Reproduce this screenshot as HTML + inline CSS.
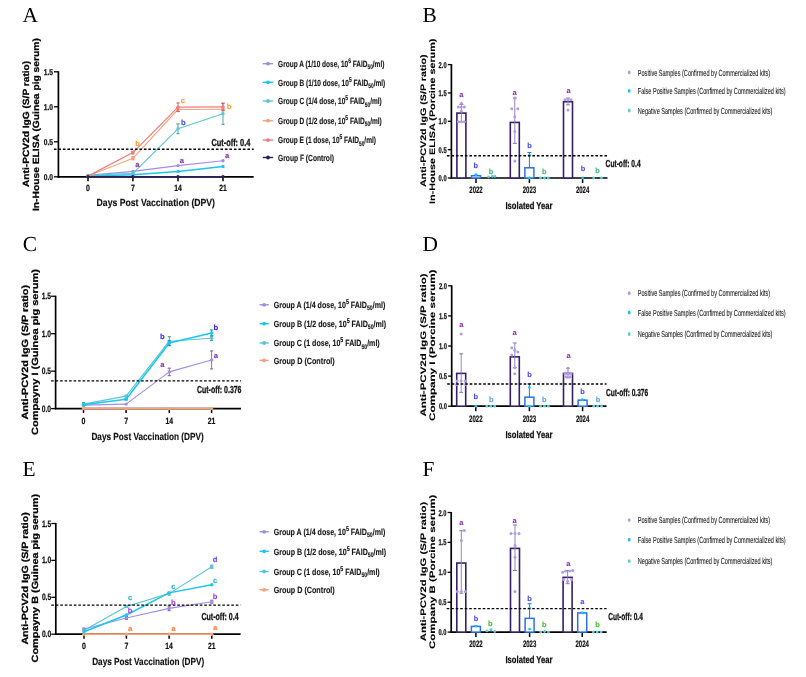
<!DOCTYPE html>
<html><head><meta charset="utf-8"><style>
html,body{margin:0;padding:0;background:#fff;width:806px;height:677px;overflow:hidden}
svg{display:block;will-change:transform;text-rendering:geometricPrecision}
</style></head><body>
<svg width="806" height="677" viewBox="0 0 806 677">
<rect width="806" height="677" fill="#fff"/>
<text x="22.5" y="22" font-family="'Liberation Serif', serif" font-size="21.4" font-weight="normal" fill="#000" text-anchor="start">A</text>
<text transform="translate(28.68,123.9) rotate(-90)" x="0" y="0" font-family="'Liberation Sans', sans-serif" font-size="9" font-weight="bold" fill="#000" text-anchor="middle" stroke="#000" stroke-width="0.25" textLength="126.2" lengthAdjust="spacingAndGlyphs">Anti-PCV2d IgG (S/P ratio)</text>
<text transform="translate(39.28,124.6) rotate(-90)" x="0" y="0" font-family="'Liberation Sans', sans-serif" font-size="9" font-weight="bold" fill="#000" text-anchor="middle" stroke="#000" stroke-width="0.25" textLength="172.8" lengthAdjust="spacingAndGlyphs">In-House ELISA (Guinea pig serum)</text>
<line x1="58.4" y1="71.3" x2="58.4" y2="177.55" stroke="#000" stroke-width="1.7" />
<line x1="53.9" y1="176.8" x2="58.4" y2="176.8" stroke="#000" stroke-width="1.3" />
<text x="53.1" y="179.8" font-family="'Liberation Sans', sans-serif" font-size="8.4" font-weight="bold" fill="#111" text-anchor="end" stroke="#111" stroke-width="0.25" textLength="9.3" lengthAdjust="spacingAndGlyphs">0.0</text>
<line x1="53.9" y1="141.8" x2="58.4" y2="141.8" stroke="#000" stroke-width="1.3" />
<text x="53.1" y="144.8" font-family="'Liberation Sans', sans-serif" font-size="8.4" font-weight="bold" fill="#111" text-anchor="end" stroke="#111" stroke-width="0.25" textLength="9.3" lengthAdjust="spacingAndGlyphs">0.5</text>
<line x1="53.9" y1="106.8" x2="58.4" y2="106.8" stroke="#000" stroke-width="1.3" />
<text x="53.1" y="109.8" font-family="'Liberation Sans', sans-serif" font-size="8.4" font-weight="bold" fill="#111" text-anchor="end" stroke="#111" stroke-width="0.25" textLength="9.3" lengthAdjust="spacingAndGlyphs">1.0</text>
<line x1="53.9" y1="71.8" x2="58.4" y2="71.8" stroke="#000" stroke-width="1.3" />
<text x="53.1" y="74.8" font-family="'Liberation Sans', sans-serif" font-size="8.4" font-weight="bold" fill="#111" text-anchor="end" stroke="#111" stroke-width="0.25" textLength="9.3" lengthAdjust="spacingAndGlyphs">1.5</text>
<line x1="57.65" y1="176.8" x2="253.7" y2="176.8" stroke="#000" stroke-width="1.7" />
<line x1="88" y1="176.8" x2="88" y2="181.3" stroke="#000" stroke-width="1.5" />
<text x="88" y="190.9" font-family="'Liberation Sans', sans-serif" font-size="9" font-weight="bold" fill="#111" text-anchor="middle" stroke="#111" stroke-width="0.2" textLength="3.9" lengthAdjust="spacingAndGlyphs">0</text>
<line x1="132.9" y1="176.8" x2="132.9" y2="181.3" stroke="#000" stroke-width="1.5" />
<text x="132.9" y="190.9" font-family="'Liberation Sans', sans-serif" font-size="9" font-weight="bold" fill="#111" text-anchor="middle" stroke="#111" stroke-width="0.2" textLength="3.9" lengthAdjust="spacingAndGlyphs">7</text>
<line x1="178" y1="176.8" x2="178" y2="181.3" stroke="#000" stroke-width="1.5" />
<text x="178" y="190.9" font-family="'Liberation Sans', sans-serif" font-size="9" font-weight="bold" fill="#111" text-anchor="middle" stroke="#111" stroke-width="0.2" textLength="7.6" lengthAdjust="spacingAndGlyphs">14</text>
<line x1="223" y1="176.8" x2="223" y2="181.3" stroke="#000" stroke-width="1.5" />
<text x="223" y="190.9" font-family="'Liberation Sans', sans-serif" font-size="9" font-weight="bold" fill="#111" text-anchor="middle" stroke="#111" stroke-width="0.2" textLength="7.6" lengthAdjust="spacingAndGlyphs">21</text>
<polyline points="88,175.4 132.9,171.41 178,165.6 223,160.7" fill="none" stroke="#a48ce4" stroke-width="1.1" stroke-linejoin="round"/>
<circle cx="88" cy="175.4" r="1.7" fill="#a48ce4" stroke="none" stroke-width="0"/>
<circle cx="132.9" cy="171.41" r="1.7" fill="#a48ce4" stroke="none" stroke-width="0"/>
<circle cx="178" cy="165.6" r="1.7" fill="#a48ce4" stroke="none" stroke-width="0"/>
<circle cx="223" cy="160.7" r="1.7" fill="#a48ce4" stroke="none" stroke-width="0"/>
<polyline points="88,176.1 132.9,174.7 178,171.41 223,166.51" fill="none" stroke="#19c6f2" stroke-width="1.5" stroke-linejoin="round"/>
<circle cx="88" cy="176.1" r="1.7" fill="#19c6f2" stroke="none" stroke-width="0"/>
<circle cx="132.9" cy="174.7" r="1.7" fill="#19c6f2" stroke="none" stroke-width="0"/>
<circle cx="178" cy="171.41" r="1.7" fill="#19c6f2" stroke="none" stroke-width="0"/>
<circle cx="223" cy="166.51" r="1.7" fill="#19c6f2" stroke="none" stroke-width="0"/>
<polyline points="88,175.4 132.9,173.3 178,128.78 223,113.8" fill="none" stroke="#5cc4d2" stroke-width="1.1" stroke-linejoin="round"/>
<circle cx="88" cy="175.4" r="1.7" fill="#5cc4d2" stroke="none" stroke-width="0"/>
<circle cx="132.9" cy="173.3" r="1.7" fill="#5cc4d2" stroke="none" stroke-width="0"/>
<line x1="178" y1="123.88" x2="178" y2="133.68" stroke="#4a9aa6" stroke-width="0.9" />
<line x1="176.4" y1="123.88" x2="179.6" y2="123.88" stroke="#4a9aa6" stroke-width="1.1" />
<line x1="176.4" y1="133.68" x2="179.6" y2="133.68" stroke="#4a9aa6" stroke-width="1.1" />
<circle cx="178" cy="128.78" r="1.7" fill="#5cc4d2" stroke="none" stroke-width="0"/>
<line x1="223" y1="103.3" x2="223" y2="124.3" stroke="#4a9aa6" stroke-width="0.9" />
<line x1="221.4" y1="103.3" x2="224.6" y2="103.3" stroke="#4a9aa6" stroke-width="1.1" />
<line x1="221.4" y1="124.3" x2="224.6" y2="124.3" stroke="#4a9aa6" stroke-width="1.1" />
<circle cx="223" cy="113.8" r="1.7" fill="#5cc4d2" stroke="none" stroke-width="0"/>
<polyline points="88,176.1 132.9,158.32 178,109.46 223,109.25" fill="none" stroke="#f6a27a" stroke-width="1.1" stroke-linejoin="round"/>
<circle cx="88" cy="176.1" r="1.7" fill="#f6a27a" stroke="none" stroke-width="0"/>
<line x1="132.9" y1="156.92" x2="132.9" y2="159.72" stroke="#d88060" stroke-width="0.9" />
<line x1="131.3" y1="156.92" x2="134.5" y2="156.92" stroke="#d88060" stroke-width="1.1" />
<line x1="131.3" y1="159.72" x2="134.5" y2="159.72" stroke="#d88060" stroke-width="1.1" />
<circle cx="132.9" cy="158.32" r="1.7" fill="#f6a27a" stroke="none" stroke-width="0"/>
<line x1="178" y1="107.36" x2="178" y2="111.56" stroke="#d88060" stroke-width="0.9" />
<line x1="176.4" y1="107.36" x2="179.6" y2="107.36" stroke="#d88060" stroke-width="1.1" />
<line x1="176.4" y1="111.56" x2="179.6" y2="111.56" stroke="#d88060" stroke-width="1.1" />
<circle cx="178" cy="109.46" r="1.7" fill="#f6a27a" stroke="none" stroke-width="0"/>
<line x1="223" y1="107.85" x2="223" y2="110.65" stroke="#d88060" stroke-width="0.9" />
<line x1="221.4" y1="107.85" x2="224.6" y2="107.85" stroke="#d88060" stroke-width="1.1" />
<line x1="221.4" y1="110.65" x2="224.6" y2="110.65" stroke="#d88060" stroke-width="1.1" />
<circle cx="223" cy="109.25" r="1.7" fill="#f6a27a" stroke="none" stroke-width="0"/>
<polyline points="88,176.1 132.9,152.58 178,107.15 223,106.8" fill="none" stroke="#f27c7c" stroke-width="1.2" stroke-linejoin="round"/>
<circle cx="88" cy="176.1" r="1.7" fill="#f27c7c" stroke="none" stroke-width="0"/>
<line x1="132.9" y1="151.18" x2="132.9" y2="153.98" stroke="#d86060" stroke-width="0.9" />
<line x1="131.3" y1="151.18" x2="134.5" y2="151.18" stroke="#d86060" stroke-width="1.1" />
<line x1="131.3" y1="153.98" x2="134.5" y2="153.98" stroke="#d86060" stroke-width="1.1" />
<circle cx="132.9" cy="152.58" r="1.7" fill="#f27c7c" stroke="none" stroke-width="0"/>
<line x1="178" y1="102.95" x2="178" y2="111.35" stroke="#d86060" stroke-width="0.9" />
<line x1="176.4" y1="102.95" x2="179.6" y2="102.95" stroke="#d86060" stroke-width="1.1" />
<line x1="176.4" y1="111.35" x2="179.6" y2="111.35" stroke="#d86060" stroke-width="1.1" />
<circle cx="178" cy="107.15" r="1.7" fill="#f27c7c" stroke="none" stroke-width="0"/>
<line x1="223" y1="103.3" x2="223" y2="110.3" stroke="#d86060" stroke-width="0.9" />
<line x1="221.4" y1="103.3" x2="224.6" y2="103.3" stroke="#d86060" stroke-width="1.1" />
<line x1="221.4" y1="110.3" x2="224.6" y2="110.3" stroke="#d86060" stroke-width="1.1" />
<circle cx="223" cy="106.8" r="1.7" fill="#f27c7c" stroke="none" stroke-width="0"/>
<polyline points="88,176.8 132.9,176.8 178,176.8 223,176.8" fill="none" stroke="#2c1d5c" stroke-width="1.6" stroke-linejoin="round"/>
<circle cx="88" cy="176.8" r="1.7" fill="#2c1d5c" stroke="none" stroke-width="0"/>
<circle cx="132.9" cy="176.8" r="1.7" fill="#2c1d5c" stroke="none" stroke-width="0"/>
<circle cx="178" cy="176.8" r="1.7" fill="#2c1d5c" stroke="none" stroke-width="0"/>
<circle cx="223" cy="176.8" r="1.7" fill="#2c1d5c" stroke="none" stroke-width="0"/>
<line x1="53.9" y1="149.2" x2="253.7" y2="149.2" stroke="#000" stroke-width="1.35" stroke-dasharray="2.6,1.9"/>
<text x="211.4" y="145.6" font-family="'Liberation Sans', sans-serif" font-size="10.2" font-weight="bold" fill="#111" text-anchor="start" stroke="#111" stroke-width="0.3" textLength="39" lengthAdjust="spacingAndGlyphs">Cut-off: 0.4</text>
<text x="137.6" y="145.5" font-family="'Liberation Sans', sans-serif" font-size="7.6" font-weight="bold" fill="#f5a030" text-anchor="middle" stroke="#f5a030" stroke-width="0.12">b</text>
<text x="182.8" y="103.3" font-family="'Liberation Sans', sans-serif" font-size="7.6" font-weight="bold" fill="#f5a030" text-anchor="middle" stroke="#f5a030" stroke-width="0.12">c</text>
<text x="229" y="109.4" font-family="'Liberation Sans', sans-serif" font-size="7.6" font-weight="bold" fill="#f5a030" text-anchor="middle" stroke="#f5a030" stroke-width="0.12">b</text>
<text x="183.3" y="124.6" font-family="'Liberation Sans', sans-serif" font-size="7.6" font-weight="bold" fill="#4a4cf0" text-anchor="middle" stroke="#4a4cf0" stroke-width="0.12">b</text>
<text x="137.4" y="167" font-family="'Liberation Sans', sans-serif" font-size="7.6" font-weight="bold" fill="#8e2fb0" text-anchor="middle" stroke="#8e2fb0" stroke-width="0.12">a</text>
<text x="181.8" y="163.3" font-family="'Liberation Sans', sans-serif" font-size="7.6" font-weight="bold" fill="#8e2fb0" text-anchor="middle" stroke="#8e2fb0" stroke-width="0.12">a</text>
<text x="227.2" y="158.1" font-family="'Liberation Sans', sans-serif" font-size="7.6" font-weight="bold" fill="#8e2fb0" text-anchor="middle" stroke="#8e2fb0" stroke-width="0.12">a</text>
<text x="155.8" y="206.2" font-family="'Liberation Sans', sans-serif" font-size="10.3" font-weight="bold" fill="#111" text-anchor="middle" stroke="#111" stroke-width="0.15" textLength="118.4" lengthAdjust="spacingAndGlyphs">Days Post Vaccination (DPV)</text>
<line x1="262.8" y1="63.7" x2="273.2" y2="63.7" stroke="#a48ce4" stroke-width="1.4" />
<circle cx="268" cy="63.7" r="1.9" fill="#a48ce4" stroke="none" stroke-width="0"/>
<text x="278.1" y="66.9" font-family="'Liberation Sans', sans-serif" font-size="9" font-weight="bold" fill="#1a1a1a" text-anchor="start" stroke="#1a1a1a" stroke-width="0.15" textLength="106.3" lengthAdjust="spacingAndGlyphs">Group A (1/10 dose, 10<tspan dy="-3.9" font-size="6.8">6</tspan><tspan dy="3.9"> FAID</tspan><tspan dy="2.3" font-size="6.6">50</tspan><tspan dy="-2.3">/ml)</tspan></text>
<line x1="262.8" y1="82.3" x2="273.2" y2="82.3" stroke="#19c6f2" stroke-width="1.4" />
<circle cx="268" cy="82.3" r="1.9" fill="#19c6f2" stroke="none" stroke-width="0"/>
<text x="278.1" y="85.5" font-family="'Liberation Sans', sans-serif" font-size="9" font-weight="bold" fill="#1a1a1a" text-anchor="start" stroke="#1a1a1a" stroke-width="0.15" textLength="107.2" lengthAdjust="spacingAndGlyphs">Group B (1/10 dose, 10<tspan dy="-3.9" font-size="6.8">5</tspan><tspan dy="3.9"> FAID</tspan><tspan dy="2.3" font-size="6.6">50</tspan><tspan dy="-2.3">/ml)</tspan></text>
<line x1="262.8" y1="101" x2="273.2" y2="101" stroke="#5cc4d2" stroke-width="1.4" />
<circle cx="268" cy="101" r="1.9" fill="#5cc4d2" stroke="none" stroke-width="0"/>
<text x="278.1" y="104.2" font-family="'Liberation Sans', sans-serif" font-size="9" font-weight="bold" fill="#1a1a1a" text-anchor="start" stroke="#1a1a1a" stroke-width="0.15" textLength="103.7" lengthAdjust="spacingAndGlyphs">Group C (1/4 dose, 10<tspan dy="-3.9" font-size="6.8">5</tspan><tspan dy="3.9"> FAID</tspan><tspan dy="2.3" font-size="6.6">50</tspan><tspan dy="-2.3">/ml)</tspan></text>
<line x1="262.8" y1="120.7" x2="273.2" y2="120.7" stroke="#f6a27a" stroke-width="1.4" />
<circle cx="268" cy="120.7" r="1.9" fill="#f6a27a" stroke="none" stroke-width="0"/>
<text x="278.1" y="123.9" font-family="'Liberation Sans', sans-serif" font-size="9" font-weight="bold" fill="#1a1a1a" text-anchor="start" stroke="#1a1a1a" stroke-width="0.15" textLength="103.7" lengthAdjust="spacingAndGlyphs">Group D (1/2 dose, 10<tspan dy="-3.9" font-size="6.8">5</tspan><tspan dy="3.9"> FAID</tspan><tspan dy="2.3" font-size="6.6">50</tspan><tspan dy="-2.3">/ml)</tspan></text>
<line x1="262.8" y1="140.1" x2="273.2" y2="140.1" stroke="#f27c7c" stroke-width="1.4" />
<circle cx="268" cy="140.1" r="1.9" fill="#f27c7c" stroke="none" stroke-width="0"/>
<text x="278.1" y="143.3" font-family="'Liberation Sans', sans-serif" font-size="9" font-weight="bold" fill="#1a1a1a" text-anchor="start" stroke="#1a1a1a" stroke-width="0.15" textLength="97.9" lengthAdjust="spacingAndGlyphs">Group E (1 dose, 10<tspan dy="-3.9" font-size="6.8">5</tspan><tspan dy="3.9"> FAID</tspan><tspan dy="2.3" font-size="6.6">50</tspan><tspan dy="-2.3">/ml)</tspan></text>
<line x1="262.8" y1="157.5" x2="273.2" y2="157.5" stroke="#2c1d5c" stroke-width="1.4" />
<circle cx="268" cy="157.5" r="1.9" fill="#2c1d5c" stroke="none" stroke-width="0"/>
<text x="278.1" y="160.7" font-family="'Liberation Sans', sans-serif" font-size="9" font-weight="bold" fill="#1a1a1a" text-anchor="start" stroke="#1a1a1a" stroke-width="0.15" textLength="55.9" lengthAdjust="spacingAndGlyphs">Group F (Control)</text>
<text x="22.8" y="251.1" font-family="'Liberation Serif', serif" font-size="21.4" font-weight="normal" fill="#000" text-anchor="start">C</text>
<text transform="translate(28.18,352.3) rotate(-90)" x="0" y="0" font-family="'Liberation Sans', sans-serif" font-size="9" font-weight="bold" fill="#000" text-anchor="middle" stroke="#000" stroke-width="0.25" textLength="134.6" lengthAdjust="spacingAndGlyphs">Anti-PCV2d IgG (S/P ratio)</text>
<text transform="translate(37.88,352) rotate(-90)" x="0" y="0" font-family="'Liberation Sans', sans-serif" font-size="9" font-weight="bold" fill="#000" text-anchor="middle" stroke="#000" stroke-width="0.25" textLength="165.9" lengthAdjust="spacingAndGlyphs">Compayny I (Guinea pig serum)</text>
<line x1="55.6" y1="295.75" x2="55.6" y2="409.35" stroke="#000" stroke-width="1.7" />
<line x1="51.1" y1="408.6" x2="55.6" y2="408.6" stroke="#000" stroke-width="1.3" />
<text x="51" y="411.6" font-family="'Liberation Sans', sans-serif" font-size="9.2" font-weight="bold" fill="#111" text-anchor="end" stroke="#111" stroke-width="0.25" textLength="9.3" lengthAdjust="spacingAndGlyphs">0.0</text>
<line x1="51.1" y1="371.15" x2="55.6" y2="371.15" stroke="#000" stroke-width="1.3" />
<text x="51" y="374.15" font-family="'Liberation Sans', sans-serif" font-size="9.2" font-weight="bold" fill="#111" text-anchor="end" stroke="#111" stroke-width="0.25" textLength="9.3" lengthAdjust="spacingAndGlyphs">0.5</text>
<line x1="51.1" y1="333.7" x2="55.6" y2="333.7" stroke="#000" stroke-width="1.3" />
<text x="51" y="336.7" font-family="'Liberation Sans', sans-serif" font-size="9.2" font-weight="bold" fill="#111" text-anchor="end" stroke="#111" stroke-width="0.25" textLength="9.3" lengthAdjust="spacingAndGlyphs">1.0</text>
<line x1="51.1" y1="296.25" x2="55.6" y2="296.25" stroke="#000" stroke-width="1.3" />
<text x="51" y="299.25" font-family="'Liberation Sans', sans-serif" font-size="9.2" font-weight="bold" fill="#111" text-anchor="end" stroke="#111" stroke-width="0.25" textLength="9.3" lengthAdjust="spacingAndGlyphs">1.5</text>
<line x1="54.85" y1="408.6" x2="241" y2="408.6" stroke="#000" stroke-width="1.7" />
<line x1="83.5" y1="408.6" x2="83.5" y2="413.1" stroke="#000" stroke-width="1.5" />
<text x="83.5" y="423.5" font-family="'Liberation Sans', sans-serif" font-size="9" font-weight="bold" fill="#111" text-anchor="middle" stroke="#111" stroke-width="0.2" textLength="3.9" lengthAdjust="spacingAndGlyphs">0</text>
<line x1="126.1" y1="408.6" x2="126.1" y2="413.1" stroke="#000" stroke-width="1.5" />
<text x="126.1" y="423.5" font-family="'Liberation Sans', sans-serif" font-size="9" font-weight="bold" fill="#111" text-anchor="middle" stroke="#111" stroke-width="0.2" textLength="3.9" lengthAdjust="spacingAndGlyphs">7</text>
<line x1="169.3" y1="408.6" x2="169.3" y2="413.1" stroke="#000" stroke-width="1.5" />
<text x="169.3" y="423.5" font-family="'Liberation Sans', sans-serif" font-size="9" font-weight="bold" fill="#111" text-anchor="middle" stroke="#111" stroke-width="0.2" textLength="7.6" lengthAdjust="spacingAndGlyphs">14</text>
<line x1="211.6" y1="408.6" x2="211.6" y2="413.1" stroke="#000" stroke-width="1.5" />
<text x="211.6" y="423.5" font-family="'Liberation Sans', sans-serif" font-size="9" font-weight="bold" fill="#111" text-anchor="middle" stroke="#111" stroke-width="0.2" textLength="7.6" lengthAdjust="spacingAndGlyphs">21</text>
<polyline points="83.5,408.6 126.1,408.6 169.3,408.6 211.6,408.6" fill="none" stroke="#f6a27a" stroke-width="1.8" stroke-linejoin="round"/>
<circle cx="83.5" cy="408.6" r="1.7" fill="#f6a27a" stroke="none" stroke-width="0"/>
<circle cx="126.1" cy="408.6" r="1.7" fill="#f6a27a" stroke="none" stroke-width="0"/>
<circle cx="169.3" cy="408.6" r="1.7" fill="#f6a27a" stroke="none" stroke-width="0"/>
<circle cx="211.6" cy="408.6" r="1.7" fill="#f6a27a" stroke="none" stroke-width="0"/>
<polyline points="83.5,405.08 126.1,404.11 169.3,371.9 211.6,359.92" fill="none" stroke="#a48ce4" stroke-width="1.1" stroke-linejoin="round"/>
<line x1="83.5" y1="404.33" x2="83.5" y2="405.83" stroke="#7a68a8" stroke-width="0.9" />
<line x1="81.9" y1="404.33" x2="85.1" y2="404.33" stroke="#7a68a8" stroke-width="1.1" />
<line x1="81.9" y1="405.83" x2="85.1" y2="405.83" stroke="#7a68a8" stroke-width="1.1" />
<circle cx="83.5" cy="405.08" r="1.7" fill="#a48ce4" stroke="none" stroke-width="0"/>
<circle cx="126.1" cy="404.11" r="1.7" fill="#a48ce4" stroke="none" stroke-width="0"/>
<line x1="169.3" y1="368.15" x2="169.3" y2="375.64" stroke="#7a68a8" stroke-width="0.9" />
<line x1="167.7" y1="368.15" x2="170.9" y2="368.15" stroke="#7a68a8" stroke-width="1.1" />
<line x1="167.7" y1="375.64" x2="170.9" y2="375.64" stroke="#7a68a8" stroke-width="1.1" />
<circle cx="169.3" cy="371.9" r="1.7" fill="#a48ce4" stroke="none" stroke-width="0"/>
<line x1="211.6" y1="350.93" x2="211.6" y2="368.9" stroke="#7a68a8" stroke-width="0.9" />
<line x1="210" y1="350.93" x2="213.2" y2="350.93" stroke="#7a68a8" stroke-width="1.1" />
<line x1="210" y1="368.9" x2="213.2" y2="368.9" stroke="#7a68a8" stroke-width="1.1" />
<circle cx="211.6" cy="359.92" r="1.7" fill="#a48ce4" stroke="none" stroke-width="0"/>
<polyline points="83.5,404.11 126.1,396.09 169.3,341.19 211.6,338.19" fill="none" stroke="#5cc4d2" stroke-width="1.1" stroke-linejoin="round"/>
<line x1="83.5" y1="402.61" x2="83.5" y2="405.6" stroke="#4a9aa6" stroke-width="0.9" />
<line x1="81.9" y1="402.61" x2="85.1" y2="402.61" stroke="#4a9aa6" stroke-width="1.1" />
<line x1="81.9" y1="405.6" x2="85.1" y2="405.6" stroke="#4a9aa6" stroke-width="1.1" />
<circle cx="83.5" cy="404.11" r="1.7" fill="#5cc4d2" stroke="none" stroke-width="0"/>
<line x1="126.1" y1="395.34" x2="126.1" y2="396.84" stroke="#4a9aa6" stroke-width="0.9" />
<line x1="124.5" y1="395.34" x2="127.7" y2="395.34" stroke="#4a9aa6" stroke-width="1.1" />
<line x1="124.5" y1="396.84" x2="127.7" y2="396.84" stroke="#4a9aa6" stroke-width="1.1" />
<circle cx="126.1" cy="396.09" r="1.7" fill="#5cc4d2" stroke="none" stroke-width="0"/>
<line x1="169.3" y1="336.7" x2="169.3" y2="345.68" stroke="#4a9aa6" stroke-width="0.9" />
<line x1="167.7" y1="336.7" x2="170.9" y2="336.7" stroke="#4a9aa6" stroke-width="1.1" />
<line x1="167.7" y1="345.68" x2="170.9" y2="345.68" stroke="#4a9aa6" stroke-width="1.1" />
<circle cx="169.3" cy="341.19" r="1.7" fill="#5cc4d2" stroke="none" stroke-width="0"/>
<line x1="211.6" y1="335.95" x2="211.6" y2="340.44" stroke="#4a9aa6" stroke-width="0.9" />
<line x1="210" y1="335.95" x2="213.2" y2="335.95" stroke="#4a9aa6" stroke-width="1.1" />
<line x1="210" y1="340.44" x2="213.2" y2="340.44" stroke="#4a9aa6" stroke-width="1.1" />
<circle cx="211.6" cy="338.19" r="1.7" fill="#5cc4d2" stroke="none" stroke-width="0"/>
<polyline points="83.5,404.86 126.1,399.31 169.3,343.06 211.6,332.95" fill="none" stroke="#19c6f2" stroke-width="1.5" stroke-linejoin="round"/>
<circle cx="83.5" cy="404.86" r="1.7" fill="#19c6f2" stroke="none" stroke-width="0"/>
<line x1="126.1" y1="398.56" x2="126.1" y2="400.06" stroke="#2090c0" stroke-width="0.9" />
<line x1="124.5" y1="398.56" x2="127.7" y2="398.56" stroke="#2090c0" stroke-width="1.1" />
<line x1="124.5" y1="400.06" x2="127.7" y2="400.06" stroke="#2090c0" stroke-width="1.1" />
<circle cx="126.1" cy="399.31" r="1.7" fill="#19c6f2" stroke="none" stroke-width="0"/>
<line x1="169.3" y1="340.82" x2="169.3" y2="345.31" stroke="#2090c0" stroke-width="0.9" />
<line x1="167.7" y1="340.82" x2="170.9" y2="340.82" stroke="#2090c0" stroke-width="1.1" />
<line x1="167.7" y1="345.31" x2="170.9" y2="345.31" stroke="#2090c0" stroke-width="1.1" />
<circle cx="169.3" cy="343.06" r="1.7" fill="#19c6f2" stroke="none" stroke-width="0"/>
<line x1="211.6" y1="329.96" x2="211.6" y2="335.95" stroke="#2090c0" stroke-width="0.9" />
<line x1="210" y1="329.96" x2="213.2" y2="329.96" stroke="#2090c0" stroke-width="1.1" />
<line x1="210" y1="335.95" x2="213.2" y2="335.95" stroke="#2090c0" stroke-width="1.1" />
<circle cx="211.6" cy="332.95" r="1.7" fill="#19c6f2" stroke="none" stroke-width="0"/>
<line x1="51.1" y1="380.84" x2="241" y2="380.84" stroke="#000" stroke-width="1.35" stroke-dasharray="2.6,1.9"/>
<text x="197" y="392.5" font-family="'Liberation Sans', sans-serif" font-size="10.2" font-weight="bold" fill="#111" text-anchor="start" stroke="#111" stroke-width="0.3" textLength="44.5" lengthAdjust="spacingAndGlyphs">Cut-off: 0.376</text>
<text x="162.3" y="339.1" font-family="'Liberation Sans', sans-serif" font-size="7.6" font-weight="bold" fill="#3a2af0" text-anchor="middle" stroke="#3a2af0" stroke-width="0.12">b</text>
<text x="215.8" y="329.8" font-family="'Liberation Sans', sans-serif" font-size="7.6" font-weight="bold" fill="#3a2af0" text-anchor="middle" stroke="#3a2af0" stroke-width="0.12">b</text>
<text x="162.3" y="366.8" font-family="'Liberation Sans', sans-serif" font-size="7.6" font-weight="bold" fill="#8e2fb0" text-anchor="middle" stroke="#8e2fb0" stroke-width="0.12">a</text>
<text x="215.8" y="357.5" font-family="'Liberation Sans', sans-serif" font-size="7.6" font-weight="bold" fill="#8e2fb0" text-anchor="middle" stroke="#8e2fb0" stroke-width="0.12">a</text>
<text x="147.6" y="439.5" font-family="'Liberation Sans', sans-serif" font-size="10.3" font-weight="bold" fill="#111" text-anchor="middle" stroke="#111" stroke-width="0.15" textLength="112.3" lengthAdjust="spacingAndGlyphs">Days Post Vaccination (DPV)</text>
<line x1="259.5" y1="304.8" x2="268.8" y2="304.8" stroke="#a48ce4" stroke-width="1.4" />
<circle cx="264.15" cy="304.8" r="1.9" fill="#a48ce4" stroke="none" stroke-width="0"/>
<text x="273.7" y="308" font-family="'Liberation Sans', sans-serif" font-size="9" font-weight="bold" fill="#1a1a1a" text-anchor="start" stroke="#1a1a1a" stroke-width="0.15" textLength="111.6" lengthAdjust="spacingAndGlyphs">Group A (1/4 dose, 10<tspan dy="-3.9" font-size="6.8">5</tspan><tspan dy="3.9"> FAID</tspan><tspan dy="2.3" font-size="6.6">50</tspan><tspan dy="-2.3">/ml)</tspan></text>
<line x1="259.5" y1="323.7" x2="268.8" y2="323.7" stroke="#19c6f2" stroke-width="1.4" />
<circle cx="264.15" cy="323.7" r="1.9" fill="#19c6f2" stroke="none" stroke-width="0"/>
<text x="273.7" y="326.9" font-family="'Liberation Sans', sans-serif" font-size="9" font-weight="bold" fill="#1a1a1a" text-anchor="start" stroke="#1a1a1a" stroke-width="0.15" textLength="112.5" lengthAdjust="spacingAndGlyphs">Group B (1/2 dose, 10<tspan dy="-3.9" font-size="6.8">5</tspan><tspan dy="3.9"> FAID</tspan><tspan dy="2.3" font-size="6.6">50</tspan><tspan dy="-2.3">/ml)</tspan></text>
<line x1="259.5" y1="343" x2="268.8" y2="343" stroke="#5cc4d2" stroke-width="1.4" />
<circle cx="264.15" cy="343" r="1.9" fill="#5cc4d2" stroke="none" stroke-width="0"/>
<text x="273.7" y="346.2" font-family="'Liberation Sans', sans-serif" font-size="9" font-weight="bold" fill="#1a1a1a" text-anchor="start" stroke="#1a1a1a" stroke-width="0.15" textLength="106" lengthAdjust="spacingAndGlyphs">Group C (1 dose, 10<tspan dy="-3.9" font-size="6.8">5</tspan><tspan dy="3.9"> FAID</tspan><tspan dy="2.3" font-size="6.6">50</tspan><tspan dy="-2.3">/ml)</tspan></text>
<line x1="259.5" y1="360.4" x2="268.8" y2="360.4" stroke="#f6a27a" stroke-width="1.4" />
<circle cx="264.15" cy="360.4" r="1.9" fill="#f6a27a" stroke="none" stroke-width="0"/>
<text x="273.7" y="363.6" font-family="'Liberation Sans', sans-serif" font-size="9" font-weight="bold" fill="#1a1a1a" text-anchor="start" stroke="#1a1a1a" stroke-width="0.15" textLength="61" lengthAdjust="spacingAndGlyphs">Group D (Control)</text>
<text x="22.5" y="476.1" font-family="'Liberation Serif', serif" font-size="21.4" font-weight="normal" fill="#000" text-anchor="start">E</text>
<text transform="translate(28.18,578.4) rotate(-90)" x="0" y="0" font-family="'Liberation Sans', sans-serif" font-size="9" font-weight="bold" fill="#000" text-anchor="middle" stroke="#000" stroke-width="0.25" textLength="132.4" lengthAdjust="spacingAndGlyphs">Anti-PCV2d IgG (S/P ratio)</text>
<text transform="translate(37.88,578.2) rotate(-90)" x="0" y="0" font-family="'Liberation Sans', sans-serif" font-size="9" font-weight="bold" fill="#000" text-anchor="middle" stroke="#000" stroke-width="0.25" textLength="168.4" lengthAdjust="spacingAndGlyphs">Compayny B (Guinea pig serum)</text>
<line x1="55.8" y1="523" x2="55.8" y2="634.95" stroke="#000" stroke-width="1.7" />
<line x1="51.3" y1="634.2" x2="55.8" y2="634.2" stroke="#000" stroke-width="1.3" />
<text x="51.2" y="637.2" font-family="'Liberation Sans', sans-serif" font-size="9.2" font-weight="bold" fill="#111" text-anchor="end" stroke="#111" stroke-width="0.25" textLength="9.3" lengthAdjust="spacingAndGlyphs">0.0</text>
<line x1="51.3" y1="597.3" x2="55.8" y2="597.3" stroke="#000" stroke-width="1.3" />
<text x="51.2" y="600.3" font-family="'Liberation Sans', sans-serif" font-size="9.2" font-weight="bold" fill="#111" text-anchor="end" stroke="#111" stroke-width="0.25" textLength="9.3" lengthAdjust="spacingAndGlyphs">0.5</text>
<line x1="51.3" y1="560.4" x2="55.8" y2="560.4" stroke="#000" stroke-width="1.3" />
<text x="51.2" y="563.4" font-family="'Liberation Sans', sans-serif" font-size="9.2" font-weight="bold" fill="#111" text-anchor="end" stroke="#111" stroke-width="0.25" textLength="9.3" lengthAdjust="spacingAndGlyphs">1.0</text>
<line x1="51.3" y1="523.5" x2="55.8" y2="523.5" stroke="#000" stroke-width="1.3" />
<text x="51.2" y="526.5" font-family="'Liberation Sans', sans-serif" font-size="9.2" font-weight="bold" fill="#111" text-anchor="end" stroke="#111" stroke-width="0.25" textLength="9.3" lengthAdjust="spacingAndGlyphs">1.5</text>
<line x1="55.05" y1="634.2" x2="240.6" y2="634.2" stroke="#000" stroke-width="1.7" />
<line x1="84" y1="634.2" x2="84" y2="638.7" stroke="#000" stroke-width="1.5" />
<text x="84" y="648.9" font-family="'Liberation Sans', sans-serif" font-size="9" font-weight="bold" fill="#111" text-anchor="middle" stroke="#111" stroke-width="0.2" textLength="3.9" lengthAdjust="spacingAndGlyphs">0</text>
<line x1="126.4" y1="634.2" x2="126.4" y2="638.7" stroke="#000" stroke-width="1.5" />
<text x="126.4" y="648.9" font-family="'Liberation Sans', sans-serif" font-size="9" font-weight="bold" fill="#111" text-anchor="middle" stroke="#111" stroke-width="0.2" textLength="3.9" lengthAdjust="spacingAndGlyphs">7</text>
<line x1="169.1" y1="634.2" x2="169.1" y2="638.7" stroke="#000" stroke-width="1.5" />
<text x="169.1" y="648.9" font-family="'Liberation Sans', sans-serif" font-size="9" font-weight="bold" fill="#111" text-anchor="middle" stroke="#111" stroke-width="0.2" textLength="7.6" lengthAdjust="spacingAndGlyphs">14</text>
<line x1="211.8" y1="634.2" x2="211.8" y2="638.7" stroke="#000" stroke-width="1.5" />
<text x="211.8" y="648.9" font-family="'Liberation Sans', sans-serif" font-size="9" font-weight="bold" fill="#111" text-anchor="middle" stroke="#111" stroke-width="0.2" textLength="7.6" lengthAdjust="spacingAndGlyphs">21</text>
<polyline points="84,634.2 126.4,634.2 169.1,634.2 211.8,634.2" fill="none" stroke="#f6a27a" stroke-width="1.8" stroke-linejoin="round"/>
<circle cx="84" cy="634.2" r="1.7" fill="#f6a27a" stroke="none" stroke-width="0"/>
<circle cx="126.4" cy="634.2" r="1.7" fill="#f6a27a" stroke="none" stroke-width="0"/>
<circle cx="169.1" cy="634.2" r="1.7" fill="#f6a27a" stroke="none" stroke-width="0"/>
<circle cx="211.8" cy="634.2" r="1.7" fill="#f6a27a" stroke="none" stroke-width="0"/>
<polyline points="84,629.03 126.4,617.96 169.1,608.37 211.8,601.73" fill="none" stroke="#a48ce4" stroke-width="1.1" stroke-linejoin="round"/>
<line x1="84" y1="628.3" x2="84" y2="629.77" stroke="#7a68a8" stroke-width="0.9" />
<line x1="82.4" y1="628.3" x2="85.6" y2="628.3" stroke="#7a68a8" stroke-width="1.1" />
<line x1="82.4" y1="629.77" x2="85.6" y2="629.77" stroke="#7a68a8" stroke-width="1.1" />
<circle cx="84" cy="629.03" r="1.7" fill="#a48ce4" stroke="none" stroke-width="0"/>
<line x1="126.4" y1="616.49" x2="126.4" y2="619.44" stroke="#7a68a8" stroke-width="0.9" />
<line x1="124.8" y1="616.49" x2="128" y2="616.49" stroke="#7a68a8" stroke-width="1.1" />
<line x1="124.8" y1="619.44" x2="128" y2="619.44" stroke="#7a68a8" stroke-width="1.1" />
<circle cx="126.4" cy="617.96" r="1.7" fill="#a48ce4" stroke="none" stroke-width="0"/>
<line x1="169.1" y1="606.16" x2="169.1" y2="610.58" stroke="#7a68a8" stroke-width="0.9" />
<line x1="167.5" y1="606.16" x2="170.7" y2="606.16" stroke="#7a68a8" stroke-width="1.1" />
<line x1="167.5" y1="610.58" x2="170.7" y2="610.58" stroke="#7a68a8" stroke-width="1.1" />
<circle cx="169.1" cy="608.37" r="1.7" fill="#a48ce4" stroke="none" stroke-width="0"/>
<line x1="211.8" y1="600.25" x2="211.8" y2="603.2" stroke="#7a68a8" stroke-width="0.9" />
<line x1="210.2" y1="600.25" x2="213.4" y2="600.25" stroke="#7a68a8" stroke-width="1.1" />
<line x1="210.2" y1="603.2" x2="213.4" y2="603.2" stroke="#7a68a8" stroke-width="1.1" />
<circle cx="211.8" cy="601.73" r="1.7" fill="#a48ce4" stroke="none" stroke-width="0"/>
<polyline points="84,630.51 126.4,606.45 169.1,593.61 211.8,566.67" fill="none" stroke="#5cc4d2" stroke-width="1.1" stroke-linejoin="round"/>
<circle cx="84" cy="630.51" r="1.7" fill="#5cc4d2" stroke="none" stroke-width="0"/>
<line x1="126.4" y1="605.71" x2="126.4" y2="607.19" stroke="#4a9aa6" stroke-width="0.9" />
<line x1="124.8" y1="605.71" x2="128" y2="605.71" stroke="#4a9aa6" stroke-width="1.1" />
<line x1="124.8" y1="607.19" x2="128" y2="607.19" stroke="#4a9aa6" stroke-width="1.1" />
<circle cx="126.4" cy="606.45" r="1.7" fill="#5cc4d2" stroke="none" stroke-width="0"/>
<line x1="169.1" y1="592.13" x2="169.1" y2="595.09" stroke="#4a9aa6" stroke-width="0.9" />
<line x1="167.5" y1="592.13" x2="170.7" y2="592.13" stroke="#4a9aa6" stroke-width="1.1" />
<line x1="167.5" y1="595.09" x2="170.7" y2="595.09" stroke="#4a9aa6" stroke-width="1.1" />
<circle cx="169.1" cy="593.61" r="1.7" fill="#5cc4d2" stroke="none" stroke-width="0"/>
<line x1="211.8" y1="565.2" x2="211.8" y2="568.15" stroke="#4a9aa6" stroke-width="0.9" />
<line x1="210.2" y1="565.2" x2="213.4" y2="565.2" stroke="#4a9aa6" stroke-width="1.1" />
<line x1="210.2" y1="568.15" x2="213.4" y2="568.15" stroke="#4a9aa6" stroke-width="1.1" />
<circle cx="211.8" cy="566.67" r="1.7" fill="#5cc4d2" stroke="none" stroke-width="0"/>
<polyline points="84,631.69 126.4,615.01 169.1,592.87 211.8,584.75" fill="none" stroke="#19c6f2" stroke-width="1.5" stroke-linejoin="round"/>
<circle cx="84" cy="631.69" r="1.7" fill="#19c6f2" stroke="none" stroke-width="0"/>
<circle cx="126.4" cy="615.01" r="1.7" fill="#19c6f2" stroke="none" stroke-width="0"/>
<circle cx="169.1" cy="592.87" r="1.7" fill="#19c6f2" stroke="none" stroke-width="0"/>
<circle cx="211.8" cy="584.75" r="1.7" fill="#19c6f2" stroke="none" stroke-width="0"/>
<line x1="51.3" y1="605.08" x2="240.6" y2="605.08" stroke="#000" stroke-width="1.35" stroke-dasharray="2.6,1.9"/>
<text x="201.4" y="619.7" font-family="'Liberation Sans', sans-serif" font-size="10.2" font-weight="bold" fill="#111" text-anchor="start" stroke="#111" stroke-width="0.3" textLength="37.2" lengthAdjust="spacingAndGlyphs">Cut-off: 0.4</text>
<text x="130.1" y="599.9" font-family="'Liberation Sans', sans-serif" font-size="7.6" font-weight="bold" fill="#2aa8c8" text-anchor="middle" stroke="#2aa8c8" stroke-width="0.12">c</text>
<text x="130.1" y="613.1" font-family="'Liberation Sans', sans-serif" font-size="7.6" font-weight="bold" fill="#a040e0" text-anchor="middle" stroke="#a040e0" stroke-width="0.12">b</text>
<text x="173.3" y="604.9" font-family="'Liberation Sans', sans-serif" font-size="7.6" font-weight="bold" fill="#a040e0" text-anchor="middle" stroke="#a040e0" stroke-width="0.12">b</text>
<text x="173.3" y="588.8" font-family="'Liberation Sans', sans-serif" font-size="7.6" font-weight="bold" fill="#2aa8c8" text-anchor="middle" stroke="#2aa8c8" stroke-width="0.12">c</text>
<text x="215" y="562.2" font-family="'Liberation Sans', sans-serif" font-size="7.6" font-weight="bold" fill="#6a4af0" text-anchor="middle" stroke="#6a4af0" stroke-width="0.12">d</text>
<text x="215" y="582.6" font-family="'Liberation Sans', sans-serif" font-size="7.6" font-weight="bold" fill="#2aa8c8" text-anchor="middle" stroke="#2aa8c8" stroke-width="0.12">c</text>
<text x="215" y="599.4" font-family="'Liberation Sans', sans-serif" font-size="7.6" font-weight="bold" fill="#a040e0" text-anchor="middle" stroke="#a040e0" stroke-width="0.12">b</text>
<text x="130.1" y="631" font-family="'Liberation Sans', sans-serif" font-size="7.6" font-weight="bold" fill="#f5803a" text-anchor="middle" stroke="#f5803a" stroke-width="0.12">a</text>
<text x="173.3" y="631" font-family="'Liberation Sans', sans-serif" font-size="7.6" font-weight="bold" fill="#f5803a" text-anchor="middle" stroke="#f5803a" stroke-width="0.12">a</text>
<text x="215" y="629.6" font-family="'Liberation Sans', sans-serif" font-size="7.6" font-weight="bold" fill="#f5803a" text-anchor="middle" stroke="#f5803a" stroke-width="0.12">a</text>
<text x="148.2" y="665.2" font-family="'Liberation Sans', sans-serif" font-size="10.3" font-weight="bold" fill="#111" text-anchor="middle" stroke="#111" stroke-width="0.15" textLength="112" lengthAdjust="spacingAndGlyphs">Days Post Vaccination (DPV)</text>
<line x1="259.5" y1="531.8" x2="268.8" y2="531.8" stroke="#a48ce4" stroke-width="1.4" />
<circle cx="264.15" cy="531.8" r="1.9" fill="#a48ce4" stroke="none" stroke-width="0"/>
<text x="273.7" y="535" font-family="'Liberation Sans', sans-serif" font-size="9" font-weight="bold" fill="#1a1a1a" text-anchor="start" stroke="#1a1a1a" stroke-width="0.15" textLength="111.6" lengthAdjust="spacingAndGlyphs">Group A (1/4 dose, 10<tspan dy="-3.9" font-size="6.8">5</tspan><tspan dy="3.9"> FAID</tspan><tspan dy="2.3" font-size="6.6">50</tspan><tspan dy="-2.3">/ml)</tspan></text>
<line x1="259.5" y1="551.3" x2="268.8" y2="551.3" stroke="#19c6f2" stroke-width="1.4" />
<circle cx="264.15" cy="551.3" r="1.9" fill="#19c6f2" stroke="none" stroke-width="0"/>
<text x="273.7" y="554.5" font-family="'Liberation Sans', sans-serif" font-size="9" font-weight="bold" fill="#1a1a1a" text-anchor="start" stroke="#1a1a1a" stroke-width="0.15" textLength="112.5" lengthAdjust="spacingAndGlyphs">Group B (1/2 dose, 10<tspan dy="-3.9" font-size="6.8">5</tspan><tspan dy="3.9"> FAID</tspan><tspan dy="2.3" font-size="6.6">50</tspan><tspan dy="-2.3">/ml)</tspan></text>
<line x1="259.5" y1="571.5" x2="268.8" y2="571.5" stroke="#5cc4d2" stroke-width="1.4" />
<circle cx="264.15" cy="571.5" r="1.9" fill="#5cc4d2" stroke="none" stroke-width="0"/>
<text x="273.7" y="574.7" font-family="'Liberation Sans', sans-serif" font-size="9" font-weight="bold" fill="#1a1a1a" text-anchor="start" stroke="#1a1a1a" stroke-width="0.15" textLength="106" lengthAdjust="spacingAndGlyphs">Group C (1 dose, 10<tspan dy="-3.9" font-size="6.8">5</tspan><tspan dy="3.9"> FAID</tspan><tspan dy="2.3" font-size="6.6">50</tspan><tspan dy="-2.3">/ml)</tspan></text>
<line x1="259.5" y1="589.8" x2="268.8" y2="589.8" stroke="#f6a27a" stroke-width="1.4" />
<circle cx="264.15" cy="589.8" r="1.9" fill="#f6a27a" stroke="none" stroke-width="0"/>
<text x="273.7" y="593" font-family="'Liberation Sans', sans-serif" font-size="9" font-weight="bold" fill="#1a1a1a" text-anchor="start" stroke="#1a1a1a" stroke-width="0.15" textLength="61" lengthAdjust="spacingAndGlyphs">Group D (Control)</text>
<text x="422.5" y="22" font-family="'Liberation Serif', serif" font-size="21.4" font-weight="normal" fill="#000" text-anchor="start">B</text>
<text transform="translate(425.92,120.8) rotate(-90)" x="0" y="0" font-family="'Liberation Sans', sans-serif" font-size="8" font-weight="bold" fill="#000" text-anchor="middle" stroke="#000" stroke-width="0.12" textLength="132.6" lengthAdjust="spacingAndGlyphs">Anti-PCV2d IgG (S/P ratio)</text>
<text transform="translate(435.22,121.35) rotate(-90)" x="0" y="0" font-family="'Liberation Sans', sans-serif" font-size="8" font-weight="bold" fill="#000" text-anchor="middle" stroke="#000" stroke-width="0.12" textLength="165.3" lengthAdjust="spacingAndGlyphs">In-House ELISA (Porcine serum)</text>
<line x1="451.4" y1="64.1" x2="451.4" y2="178.75" stroke="#000" stroke-width="1.7" />
<line x1="447.8" y1="178" x2="451.4" y2="178" stroke="#000" stroke-width="1.3" />
<text x="446.6" y="181" font-family="'Liberation Sans', sans-serif" font-size="8.4" font-weight="bold" fill="#111" text-anchor="end" stroke="#111" stroke-width="0.25" textLength="8" lengthAdjust="spacingAndGlyphs">0.0</text>
<line x1="447.8" y1="149.65" x2="451.4" y2="149.65" stroke="#000" stroke-width="1.3" />
<text x="446.6" y="152.65" font-family="'Liberation Sans', sans-serif" font-size="8.4" font-weight="bold" fill="#111" text-anchor="end" stroke="#111" stroke-width="0.25" textLength="8" lengthAdjust="spacingAndGlyphs">0.5</text>
<line x1="447.8" y1="121.3" x2="451.4" y2="121.3" stroke="#000" stroke-width="1.3" />
<text x="446.6" y="124.3" font-family="'Liberation Sans', sans-serif" font-size="8.4" font-weight="bold" fill="#111" text-anchor="end" stroke="#111" stroke-width="0.25" textLength="8" lengthAdjust="spacingAndGlyphs">1.0</text>
<line x1="447.8" y1="92.95" x2="451.4" y2="92.95" stroke="#000" stroke-width="1.3" />
<text x="446.6" y="95.95" font-family="'Liberation Sans', sans-serif" font-size="8.4" font-weight="bold" fill="#111" text-anchor="end" stroke="#111" stroke-width="0.25" textLength="8" lengthAdjust="spacingAndGlyphs">1.5</text>
<line x1="447.8" y1="64.6" x2="451.4" y2="64.6" stroke="#000" stroke-width="1.3" />
<text x="446.6" y="67.6" font-family="'Liberation Sans', sans-serif" font-size="8.4" font-weight="bold" fill="#111" text-anchor="end" stroke="#111" stroke-width="0.25" textLength="8" lengthAdjust="spacingAndGlyphs">2.0</text>
<line x1="450.65" y1="178" x2="607.5" y2="178" stroke="#000" stroke-width="1.7" />
<line x1="476" y1="178" x2="476" y2="183" stroke="#000" stroke-width="1.5" />
<text x="476" y="192.6" font-family="'Liberation Sans', sans-serif" font-size="9.4" font-weight="bold" fill="#111" text-anchor="middle" stroke="#111" stroke-width="0.2" textLength="13.4" lengthAdjust="spacingAndGlyphs">2022</text>
<line x1="529.4" y1="178" x2="529.4" y2="183" stroke="#000" stroke-width="1.5" />
<text x="529.4" y="192.6" font-family="'Liberation Sans', sans-serif" font-size="9.4" font-weight="bold" fill="#111" text-anchor="middle" stroke="#111" stroke-width="0.2" textLength="13.4" lengthAdjust="spacingAndGlyphs">2023</text>
<line x1="582.6" y1="178" x2="582.6" y2="183" stroke="#000" stroke-width="1.5" />
<text x="582.6" y="192.6" font-family="'Liberation Sans', sans-serif" font-size="9.4" font-weight="bold" fill="#111" text-anchor="middle" stroke="#111" stroke-width="0.2" textLength="13.4" lengthAdjust="spacingAndGlyphs">2024</text>
<rect x="456.9" y="113.08" width="9" height="64.92" fill="#fff" stroke="#35206a" stroke-width="1.6"/>
<line x1="461.4" y1="104.52" x2="461.4" y2="121.87" stroke="#8878b8" stroke-width="0.9" />
<line x1="459.4" y1="104.52" x2="463.4" y2="104.52" stroke="#8878b8" stroke-width="1" />
<line x1="459.4" y1="121.87" x2="463.4" y2="121.87" stroke="#8878b8" stroke-width="1" />
<circle cx="461.4" cy="103.16" r="1.5" fill="#b49ae6" stroke="none" stroke-width="0"/>
<circle cx="458.4" cy="107.12" r="1.5" fill="#b49ae6" stroke="none" stroke-width="0"/>
<circle cx="461.4" cy="107.12" r="1.5" fill="#b49ae6" stroke="none" stroke-width="0"/>
<circle cx="464.4" cy="107.12" r="1.5" fill="#b49ae6" stroke="none" stroke-width="0"/>
<circle cx="461.4" cy="111.09" r="1.5" fill="#b49ae6" stroke="none" stroke-width="0"/>
<circle cx="458.4" cy="121.87" r="1.5" fill="#b49ae6" stroke="none" stroke-width="0"/>
<circle cx="461.4" cy="121.87" r="1.5" fill="#b49ae6" stroke="none" stroke-width="0"/>
<circle cx="464.4" cy="121.87" r="1.5" fill="#b49ae6" stroke="none" stroke-width="0"/>
<rect x="471.5" y="175.73" width="9" height="2.27" fill="#fff" stroke="#2a72e6" stroke-width="1.5"/>
<line x1="476" y1="175.16" x2="476" y2="175.73" stroke="#2a72e6" stroke-width="1" />
<line x1="474" y1="175.16" x2="478" y2="175.16" stroke="#2a72e6" stroke-width="1" />
<circle cx="476" cy="174.6" r="1.4" fill="#19c6f2" stroke="none" stroke-width="0"/>
<circle cx="488.4" cy="176.87" r="1.4" fill="#5fcbd8" stroke="none" stroke-width="0"/>
<circle cx="492.3" cy="176.3" r="1.4" fill="#5fcbd8" stroke="none" stroke-width="0"/>
<circle cx="494.9" cy="176.3" r="1.4" fill="#5fcbd8" stroke="none" stroke-width="0"/>
<rect x="510.3" y="122.43" width="9" height="55.57" fill="#fff" stroke="#35206a" stroke-width="1.6"/>
<line x1="514.8" y1="98.05" x2="514.8" y2="143.41" stroke="#8878b8" stroke-width="0.9" />
<line x1="512.8" y1="98.05" x2="516.8" y2="98.05" stroke="#8878b8" stroke-width="1" />
<line x1="512.8" y1="143.41" x2="516.8" y2="143.41" stroke="#8878b8" stroke-width="1" />
<circle cx="514.8" cy="98.05" r="1.5" fill="#b49ae6" stroke="none" stroke-width="0"/>
<circle cx="511.8" cy="108.83" r="1.5" fill="#b49ae6" stroke="none" stroke-width="0"/>
<circle cx="517.8" cy="108.83" r="1.5" fill="#b49ae6" stroke="none" stroke-width="0"/>
<circle cx="514.8" cy="116.76" r="1.5" fill="#b49ae6" stroke="none" stroke-width="0"/>
<circle cx="514.8" cy="131.51" r="1.5" fill="#b49ae6" stroke="none" stroke-width="0"/>
<circle cx="514.8" cy="160.99" r="1.5" fill="#b49ae6" stroke="none" stroke-width="0"/>
<rect x="524.9" y="167.79" width="9" height="10.21" fill="#fff" stroke="#2a72e6" stroke-width="1.5"/>
<line x1="529.4" y1="152.49" x2="529.4" y2="167.79" stroke="#2a72e6" stroke-width="1" />
<line x1="527.4" y1="152.49" x2="531.4" y2="152.49" stroke="#2a72e6" stroke-width="1" />
<circle cx="529.4" cy="155.32" r="1.4" fill="#19c6f2" stroke="none" stroke-width="0"/>
<circle cx="529.4" cy="178" r="1.4" fill="#19c6f2" stroke="none" stroke-width="0"/>
<circle cx="540.5" cy="178" r="1.4" fill="#5fcbd8" stroke="none" stroke-width="0"/>
<circle cx="544.4" cy="178" r="1.4" fill="#5fcbd8" stroke="none" stroke-width="0"/>
<circle cx="548.3" cy="178" r="1.4" fill="#5fcbd8" stroke="none" stroke-width="0"/>
<rect x="563.5" y="101.74" width="9" height="76.26" fill="#fff" stroke="#35206a" stroke-width="1.6"/>
<line x1="568" y1="98.05" x2="568" y2="104.86" stroke="#8878b8" stroke-width="0.9" />
<line x1="566" y1="98.05" x2="570" y2="98.05" stroke="#8878b8" stroke-width="1" />
<line x1="566" y1="104.86" x2="570" y2="104.86" stroke="#8878b8" stroke-width="1" />
<circle cx="565" cy="99.75" r="1.5" fill="#b49ae6" stroke="none" stroke-width="0"/>
<circle cx="568" cy="99.75" r="1.5" fill="#b49ae6" stroke="none" stroke-width="0"/>
<circle cx="571" cy="99.75" r="1.5" fill="#b49ae6" stroke="none" stroke-width="0"/>
<circle cx="568" cy="109.96" r="1.5" fill="#b49ae6" stroke="none" stroke-width="0"/>
<circle cx="582.6" cy="178" r="1.4" fill="#19c6f2" stroke="none" stroke-width="0"/>
<circle cx="593.7" cy="178" r="1.4" fill="#5fcbd8" stroke="none" stroke-width="0"/>
<circle cx="601.5" cy="178" r="1.4" fill="#5fcbd8" stroke="none" stroke-width="0"/>
<line x1="446.9" y1="155.72" x2="607.5" y2="155.72" stroke="#000" stroke-width="1.35" stroke-dasharray="2.6,1.9"/>
<text x="605.6" y="167.4" font-family="'Liberation Sans', sans-serif" font-size="10.2" font-weight="bold" fill="#111" text-anchor="start" stroke="#111" stroke-width="0.3" textLength="35" lengthAdjust="spacingAndGlyphs">Cut-off: 0.4</text>
<text x="461.3" y="96.5" font-family="'Liberation Sans', sans-serif" font-size="7.4" font-weight="bold" fill="#8e2fb0" text-anchor="middle" stroke="#8e2fb0" stroke-width="0.12">a</text>
<text x="514.5" y="94.9" font-family="'Liberation Sans', sans-serif" font-size="7.4" font-weight="bold" fill="#8e2fb0" text-anchor="middle" stroke="#8e2fb0" stroke-width="0.12">a</text>
<text x="568.5" y="92.9" font-family="'Liberation Sans', sans-serif" font-size="7.4" font-weight="bold" fill="#8e2fb0" text-anchor="middle" stroke="#8e2fb0" stroke-width="0.12">a</text>
<text x="475.8" y="168" font-family="'Liberation Sans', sans-serif" font-size="7.4" font-weight="bold" fill="#4a4cf0" text-anchor="middle" stroke="#4a4cf0" stroke-width="0.12">b</text>
<text x="491.1" y="173.9" font-family="'Liberation Sans', sans-serif" font-size="7.4" font-weight="bold" fill="#3dbb78" text-anchor="middle" stroke="#3dbb78" stroke-width="0.12">b</text>
<text x="529.4" y="148.1" font-family="'Liberation Sans', sans-serif" font-size="7.4" font-weight="bold" fill="#4a4cf0" text-anchor="middle" stroke="#4a4cf0" stroke-width="0.12">b</text>
<text x="544.3" y="174.3" font-family="'Liberation Sans', sans-serif" font-size="7.4" font-weight="bold" fill="#3dbb78" text-anchor="middle" stroke="#3dbb78" stroke-width="0.12">b</text>
<text x="583" y="170.6" font-family="'Liberation Sans', sans-serif" font-size="7.4" font-weight="bold" fill="#4a4cf0" text-anchor="middle" stroke="#4a4cf0" stroke-width="0.12">b</text>
<text x="597.5" y="172.9" font-family="'Liberation Sans', sans-serif" font-size="7.4" font-weight="bold" fill="#3dbb78" text-anchor="middle" stroke="#3dbb78" stroke-width="0.12">b</text>
<text x="529" y="209.1" font-family="'Liberation Sans', sans-serif" font-size="10" font-weight="bold" fill="#111" text-anchor="middle" stroke="#111" stroke-width="0.25" textLength="47" lengthAdjust="spacingAndGlyphs">Isolated Year</text>
<ellipse cx="629.2" cy="72.4" rx="1.4" ry="1.9" fill="#b49ae6"/>
<text x="637.8" y="75.6" font-family="'Liberation Sans', sans-serif" font-size="8.8" font-weight="normal" fill="#151515" text-anchor="start" stroke="#151515" stroke-width="0.08" textLength="132.3" lengthAdjust="spacingAndGlyphs">Positive Samples (Confirmed by Commercialized kits)</text>
<ellipse cx="629.2" cy="90.8" rx="1.4" ry="1.9" fill="#19c6f2"/>
<text x="637.8" y="94" font-family="'Liberation Sans', sans-serif" font-size="8.8" font-weight="normal" fill="#151515" text-anchor="start" stroke="#151515" stroke-width="0.08" textLength="147.8" lengthAdjust="spacingAndGlyphs">False Positive Samples (Confirmed by Commercialized kits)</text>
<ellipse cx="629.2" cy="110.5" rx="1.4" ry="1.9" fill="#5fcbd8"/>
<text x="637.8" y="113.7" font-family="'Liberation Sans', sans-serif" font-size="8.8" font-weight="normal" fill="#151515" text-anchor="start" stroke="#151515" stroke-width="0.08" textLength="134.6" lengthAdjust="spacingAndGlyphs">Negative Samples (Confirmed by Commercialized kits)</text>
<text x="422.5" y="251" font-family="'Liberation Serif', serif" font-size="21.4" font-weight="normal" fill="#000" text-anchor="start">D</text>
<text transform="translate(426.02,345) rotate(-90)" x="0" y="0" font-family="'Liberation Sans', sans-serif" font-size="8" font-weight="bold" fill="#000" text-anchor="middle" stroke="#000" stroke-width="0.12" textLength="143.1" lengthAdjust="spacingAndGlyphs">Anti-PCV2d IgG (S/P ratio)</text>
<text transform="translate(435.12,345.3) rotate(-90)" x="0" y="0" font-family="'Liberation Sans', sans-serif" font-size="8" font-weight="bold" fill="#000" text-anchor="middle" stroke="#000" stroke-width="0.12" textLength="151.4" lengthAdjust="spacingAndGlyphs">Company I (Porcine serum)</text>
<line x1="451.7" y1="285.3" x2="451.7" y2="406.95" stroke="#000" stroke-width="1.7" />
<line x1="448.1" y1="406.2" x2="451.7" y2="406.2" stroke="#000" stroke-width="1.3" />
<text x="446.9" y="409.2" font-family="'Liberation Sans', sans-serif" font-size="8.4" font-weight="bold" fill="#111" text-anchor="end" stroke="#111" stroke-width="0.25" textLength="8" lengthAdjust="spacingAndGlyphs">0.0</text>
<line x1="448.1" y1="376.1" x2="451.7" y2="376.1" stroke="#000" stroke-width="1.3" />
<text x="446.9" y="379.1" font-family="'Liberation Sans', sans-serif" font-size="8.4" font-weight="bold" fill="#111" text-anchor="end" stroke="#111" stroke-width="0.25" textLength="8" lengthAdjust="spacingAndGlyphs">0.5</text>
<line x1="448.1" y1="346" x2="451.7" y2="346" stroke="#000" stroke-width="1.3" />
<text x="446.9" y="349" font-family="'Liberation Sans', sans-serif" font-size="8.4" font-weight="bold" fill="#111" text-anchor="end" stroke="#111" stroke-width="0.25" textLength="8" lengthAdjust="spacingAndGlyphs">1.0</text>
<line x1="448.1" y1="315.9" x2="451.7" y2="315.9" stroke="#000" stroke-width="1.3" />
<text x="446.9" y="318.9" font-family="'Liberation Sans', sans-serif" font-size="8.4" font-weight="bold" fill="#111" text-anchor="end" stroke="#111" stroke-width="0.25" textLength="8" lengthAdjust="spacingAndGlyphs">1.5</text>
<line x1="448.1" y1="285.8" x2="451.7" y2="285.8" stroke="#000" stroke-width="1.3" />
<text x="446.9" y="288.8" font-family="'Liberation Sans', sans-serif" font-size="8.4" font-weight="bold" fill="#111" text-anchor="end" stroke="#111" stroke-width="0.25" textLength="8" lengthAdjust="spacingAndGlyphs">2.0</text>
<line x1="450.95" y1="406.2" x2="606.5" y2="406.2" stroke="#000" stroke-width="1.7" />
<line x1="475.8" y1="406.2" x2="475.8" y2="411.2" stroke="#000" stroke-width="1.5" />
<text x="475.8" y="421.9" font-family="'Liberation Sans', sans-serif" font-size="9.4" font-weight="bold" fill="#111" text-anchor="middle" stroke="#111" stroke-width="0.2" textLength="13.4" lengthAdjust="spacingAndGlyphs">2022</text>
<line x1="529.4" y1="406.2" x2="529.4" y2="411.2" stroke="#000" stroke-width="1.5" />
<text x="529.4" y="421.9" font-family="'Liberation Sans', sans-serif" font-size="9.4" font-weight="bold" fill="#111" text-anchor="middle" stroke="#111" stroke-width="0.2" textLength="13.4" lengthAdjust="spacingAndGlyphs">2023</text>
<line x1="582.6" y1="406.2" x2="582.6" y2="411.2" stroke="#000" stroke-width="1.5" />
<text x="582.6" y="421.9" font-family="'Liberation Sans', sans-serif" font-size="9.4" font-weight="bold" fill="#111" text-anchor="middle" stroke="#111" stroke-width="0.2" textLength="13.4" lengthAdjust="spacingAndGlyphs">2024</text>
<rect x="456.7" y="373.39" width="9" height="32.81" fill="#fff" stroke="#35206a" stroke-width="1.6"/>
<line x1="461.2" y1="353.83" x2="461.2" y2="392.35" stroke="#8878b8" stroke-width="0.9" />
<line x1="459.2" y1="353.83" x2="463.2" y2="353.83" stroke="#8878b8" stroke-width="1" />
<line x1="459.2" y1="392.35" x2="463.2" y2="392.35" stroke="#8878b8" stroke-width="1" />
<circle cx="461.2" cy="333.96" r="1.5" fill="#b49ae6" stroke="none" stroke-width="0"/>
<circle cx="457.2" cy="380.92" r="1.5" fill="#b49ae6" stroke="none" stroke-width="0"/>
<circle cx="461.2" cy="380.92" r="1.5" fill="#b49ae6" stroke="none" stroke-width="0"/>
<circle cx="465.2" cy="380.92" r="1.5" fill="#b49ae6" stroke="none" stroke-width="0"/>
<circle cx="456.7" cy="384.53" r="1.5" fill="#b49ae6" stroke="none" stroke-width="0"/>
<circle cx="465.7" cy="384.53" r="1.5" fill="#b49ae6" stroke="none" stroke-width="0"/>
<circle cx="475.8" cy="406.2" r="1.4" fill="#19c6f2" stroke="none" stroke-width="0"/>
<circle cx="486.9" cy="406.2" r="1.4" fill="#5fcbd8" stroke="none" stroke-width="0"/>
<circle cx="490.8" cy="406.2" r="1.4" fill="#5fcbd8" stroke="none" stroke-width="0"/>
<circle cx="494.7" cy="406.2" r="1.4" fill="#5fcbd8" stroke="none" stroke-width="0"/>
<rect x="510.3" y="356.84" width="9" height="49.36" fill="#fff" stroke="#35206a" stroke-width="1.6"/>
<line x1="514.8" y1="342.99" x2="514.8" y2="367.67" stroke="#8878b8" stroke-width="0.9" />
<line x1="512.8" y1="342.99" x2="516.8" y2="342.99" stroke="#8878b8" stroke-width="1" />
<line x1="512.8" y1="367.67" x2="516.8" y2="367.67" stroke="#8878b8" stroke-width="1" />
<circle cx="511.8" cy="347.81" r="1.5" fill="#b49ae6" stroke="none" stroke-width="0"/>
<circle cx="514.8" cy="350.21" r="1.5" fill="#b49ae6" stroke="none" stroke-width="0"/>
<circle cx="517.8" cy="352.02" r="1.5" fill="#b49ae6" stroke="none" stroke-width="0"/>
<circle cx="511.8" cy="355.03" r="1.5" fill="#b49ae6" stroke="none" stroke-width="0"/>
<circle cx="514.8" cy="367.67" r="1.5" fill="#b49ae6" stroke="none" stroke-width="0"/>
<circle cx="514.8" cy="373.69" r="1.5" fill="#b49ae6" stroke="none" stroke-width="0"/>
<rect x="524.9" y="397.17" width="9" height="9.03" fill="#fff" stroke="#2a72e6" stroke-width="1.5"/>
<line x1="529.4" y1="383.93" x2="529.4" y2="397.17" stroke="#2a72e6" stroke-width="1" />
<line x1="527.4" y1="383.93" x2="531.4" y2="383.93" stroke="#2a72e6" stroke-width="1" />
<circle cx="529.4" cy="387.54" r="1.4" fill="#19c6f2" stroke="none" stroke-width="0"/>
<circle cx="529.4" cy="406.2" r="1.4" fill="#19c6f2" stroke="none" stroke-width="0"/>
<circle cx="540.5" cy="406.2" r="1.4" fill="#5fcbd8" stroke="none" stroke-width="0"/>
<circle cx="544.4" cy="406.2" r="1.4" fill="#5fcbd8" stroke="none" stroke-width="0"/>
<circle cx="548.3" cy="406.2" r="1.4" fill="#5fcbd8" stroke="none" stroke-width="0"/>
<rect x="563.5" y="373.39" width="9" height="32.81" fill="#fff" stroke="#35206a" stroke-width="1.6"/>
<line x1="568" y1="368.27" x2="568" y2="377.91" stroke="#8878b8" stroke-width="0.9" />
<line x1="566" y1="368.27" x2="570" y2="368.27" stroke="#8878b8" stroke-width="1" />
<line x1="566" y1="377.91" x2="570" y2="377.91" stroke="#8878b8" stroke-width="1" />
<circle cx="568" cy="368.27" r="1.5" fill="#b49ae6" stroke="none" stroke-width="0"/>
<circle cx="565" cy="373.39" r="1.5" fill="#b49ae6" stroke="none" stroke-width="0"/>
<circle cx="568" cy="373.39" r="1.5" fill="#b49ae6" stroke="none" stroke-width="0"/>
<circle cx="571" cy="373.39" r="1.5" fill="#b49ae6" stroke="none" stroke-width="0"/>
<circle cx="566" cy="376.7" r="1.5" fill="#b49ae6" stroke="none" stroke-width="0"/>
<circle cx="570" cy="376.7" r="1.5" fill="#b49ae6" stroke="none" stroke-width="0"/>
<rect x="578.1" y="400.18" width="9" height="6.02" fill="#fff" stroke="#2a72e6" stroke-width="1.5"/>
<line x1="582.6" y1="399.58" x2="582.6" y2="400.18" stroke="#2a72e6" stroke-width="1" />
<line x1="580.6" y1="399.58" x2="584.6" y2="399.58" stroke="#2a72e6" stroke-width="1" />
<circle cx="582.6" cy="399.58" r="1.4" fill="#19c6f2" stroke="none" stroke-width="0"/>
<circle cx="593.7" cy="406.2" r="1.4" fill="#5fcbd8" stroke="none" stroke-width="0"/>
<circle cx="597.6" cy="406.2" r="1.4" fill="#5fcbd8" stroke="none" stroke-width="0"/>
<circle cx="601.5" cy="406.2" r="1.4" fill="#5fcbd8" stroke="none" stroke-width="0"/>
<line x1="447.2" y1="383.96" x2="606.5" y2="383.96" stroke="#000" stroke-width="1.35" stroke-dasharray="2.6,1.9"/>
<text x="606" y="395.8" font-family="'Liberation Sans', sans-serif" font-size="10.2" font-weight="bold" fill="#111" text-anchor="start" stroke="#111" stroke-width="0.3" textLength="42.2" lengthAdjust="spacingAndGlyphs">Cut-off: 0.376</text>
<text x="461.3" y="326.5" font-family="'Liberation Sans', sans-serif" font-size="7.4" font-weight="bold" fill="#8e2fb0" text-anchor="middle" stroke="#8e2fb0" stroke-width="0.12">a</text>
<text x="514.5" y="335.4" font-family="'Liberation Sans', sans-serif" font-size="7.4" font-weight="bold" fill="#8e2fb0" text-anchor="middle" stroke="#8e2fb0" stroke-width="0.12">a</text>
<text x="568.5" y="358.3" font-family="'Liberation Sans', sans-serif" font-size="7.4" font-weight="bold" fill="#8e2fb0" text-anchor="middle" stroke="#8e2fb0" stroke-width="0.12">a</text>
<text x="475.8" y="399" font-family="'Liberation Sans', sans-serif" font-size="7.4" font-weight="bold" fill="#4a4cf0" text-anchor="middle" stroke="#4a4cf0" stroke-width="0.12">b</text>
<text x="491.3" y="401.9" font-family="'Liberation Sans', sans-serif" font-size="7.4" font-weight="bold" fill="#5aa0f0" text-anchor="middle" stroke="#5aa0f0" stroke-width="0.12">b</text>
<text x="529.4" y="377.1" font-family="'Liberation Sans', sans-serif" font-size="7.4" font-weight="bold" fill="#4a4cf0" text-anchor="middle" stroke="#4a4cf0" stroke-width="0.12">b</text>
<text x="544.3" y="402.3" font-family="'Liberation Sans', sans-serif" font-size="7.4" font-weight="bold" fill="#5aa0f0" text-anchor="middle" stroke="#5aa0f0" stroke-width="0.12">b</text>
<text x="582.6" y="394" font-family="'Liberation Sans', sans-serif" font-size="7.4" font-weight="bold" fill="#4a4cf0" text-anchor="middle" stroke="#4a4cf0" stroke-width="0.12">b</text>
<text x="597.9" y="402.3" font-family="'Liberation Sans', sans-serif" font-size="7.4" font-weight="bold" fill="#5aa0f0" text-anchor="middle" stroke="#5aa0f0" stroke-width="0.12">b</text>
<text x="529" y="438.2" font-family="'Liberation Sans', sans-serif" font-size="10" font-weight="bold" fill="#111" text-anchor="middle" stroke="#111" stroke-width="0.25" textLength="47" lengthAdjust="spacingAndGlyphs">Isolated Year</text>
<ellipse cx="629.2" cy="293.2" rx="1.4" ry="1.9" fill="#b49ae6"/>
<text x="637.8" y="296.4" font-family="'Liberation Sans', sans-serif" font-size="8.8" font-weight="normal" fill="#151515" text-anchor="start" stroke="#151515" stroke-width="0.08" textLength="132.3" lengthAdjust="spacingAndGlyphs">Positive Samples (Confirmed by Commercialized kits)</text>
<ellipse cx="629.2" cy="312.5" rx="1.4" ry="1.9" fill="#19c6f2"/>
<text x="637.8" y="315.7" font-family="'Liberation Sans', sans-serif" font-size="8.8" font-weight="normal" fill="#151515" text-anchor="start" stroke="#151515" stroke-width="0.08" textLength="147.8" lengthAdjust="spacingAndGlyphs">False Positive Samples (Confirmed by Commercialized kits)</text>
<ellipse cx="629.2" cy="334" rx="1.4" ry="1.9" fill="#5fcbd8"/>
<text x="637.8" y="337.2" font-family="'Liberation Sans', sans-serif" font-size="8.8" font-weight="normal" fill="#151515" text-anchor="start" stroke="#151515" stroke-width="0.08" textLength="134.6" lengthAdjust="spacingAndGlyphs">Negative Samples (Confirmed by Commercialized kits)</text>
<text x="422.5" y="476.2" font-family="'Liberation Serif', serif" font-size="21.4" font-weight="normal" fill="#000" text-anchor="start">F</text>
<text transform="translate(426.02,571.5) rotate(-90)" x="0" y="0" font-family="'Liberation Sans', sans-serif" font-size="8" font-weight="bold" fill="#000" text-anchor="middle" stroke="#000" stroke-width="0.12" textLength="139.4" lengthAdjust="spacingAndGlyphs">Anti-PCV2d IgG (S/P ratio)</text>
<text transform="translate(435.12,571.8) rotate(-90)" x="0" y="0" font-family="'Liberation Sans', sans-serif" font-size="8" font-weight="bold" fill="#000" text-anchor="middle" stroke="#000" stroke-width="0.12" textLength="154.4" lengthAdjust="spacingAndGlyphs">Company B (Porcine serum)</text>
<line x1="451.2" y1="512" x2="451.2" y2="632.85" stroke="#000" stroke-width="1.7" />
<line x1="447.6" y1="632.1" x2="451.2" y2="632.1" stroke="#000" stroke-width="1.3" />
<text x="446.4" y="635.1" font-family="'Liberation Sans', sans-serif" font-size="8.4" font-weight="bold" fill="#111" text-anchor="end" stroke="#111" stroke-width="0.25" textLength="8" lengthAdjust="spacingAndGlyphs">0.0</text>
<line x1="447.6" y1="602.2" x2="451.2" y2="602.2" stroke="#000" stroke-width="1.3" />
<text x="446.4" y="605.2" font-family="'Liberation Sans', sans-serif" font-size="8.4" font-weight="bold" fill="#111" text-anchor="end" stroke="#111" stroke-width="0.25" textLength="8" lengthAdjust="spacingAndGlyphs">0.5</text>
<line x1="447.6" y1="572.3" x2="451.2" y2="572.3" stroke="#000" stroke-width="1.3" />
<text x="446.4" y="575.3" font-family="'Liberation Sans', sans-serif" font-size="8.4" font-weight="bold" fill="#111" text-anchor="end" stroke="#111" stroke-width="0.25" textLength="8" lengthAdjust="spacingAndGlyphs">1.0</text>
<line x1="447.6" y1="542.4" x2="451.2" y2="542.4" stroke="#000" stroke-width="1.3" />
<text x="446.4" y="545.4" font-family="'Liberation Sans', sans-serif" font-size="8.4" font-weight="bold" fill="#111" text-anchor="end" stroke="#111" stroke-width="0.25" textLength="8" lengthAdjust="spacingAndGlyphs">1.5</text>
<line x1="447.6" y1="512.5" x2="451.2" y2="512.5" stroke="#000" stroke-width="1.3" />
<text x="446.4" y="515.5" font-family="'Liberation Sans', sans-serif" font-size="8.4" font-weight="bold" fill="#111" text-anchor="end" stroke="#111" stroke-width="0.25" textLength="8" lengthAdjust="spacingAndGlyphs">2.0</text>
<line x1="450.45" y1="632.1" x2="606.6" y2="632.1" stroke="#000" stroke-width="1.7" />
<line x1="475.9" y1="632.1" x2="475.9" y2="637.1" stroke="#000" stroke-width="1.5" />
<text x="475.9" y="647" font-family="'Liberation Sans', sans-serif" font-size="9.4" font-weight="bold" fill="#111" text-anchor="middle" stroke="#111" stroke-width="0.2" textLength="13.4" lengthAdjust="spacingAndGlyphs">2022</text>
<line x1="529.6" y1="632.1" x2="529.6" y2="637.1" stroke="#000" stroke-width="1.5" />
<text x="529.6" y="647" font-family="'Liberation Sans', sans-serif" font-size="9.4" font-weight="bold" fill="#111" text-anchor="middle" stroke="#111" stroke-width="0.2" textLength="13.4" lengthAdjust="spacingAndGlyphs">2023</text>
<line x1="582.2" y1="632.1" x2="582.2" y2="637.1" stroke="#000" stroke-width="1.5" />
<text x="582.2" y="647" font-family="'Liberation Sans', sans-serif" font-size="9.4" font-weight="bold" fill="#111" text-anchor="middle" stroke="#111" stroke-width="0.2" textLength="13.4" lengthAdjust="spacingAndGlyphs">2024</text>
<rect x="456.8" y="563.03" width="9" height="69.07" fill="#fff" stroke="#35206a" stroke-width="1.6"/>
<line x1="461.3" y1="530.74" x2="461.3" y2="593.23" stroke="#8878b8" stroke-width="0.9" />
<line x1="459.3" y1="530.74" x2="463.3" y2="530.74" stroke="#8878b8" stroke-width="1" />
<line x1="459.3" y1="593.23" x2="463.3" y2="593.23" stroke="#8878b8" stroke-width="1" />
<circle cx="464.3" cy="530.44" r="1.5" fill="#b49ae6" stroke="none" stroke-width="0"/>
<circle cx="461.3" cy="540.61" r="1.5" fill="#b49ae6" stroke="none" stroke-width="0"/>
<circle cx="457.3" cy="591.44" r="1.5" fill="#b49ae6" stroke="none" stroke-width="0"/>
<circle cx="461.3" cy="591.44" r="1.5" fill="#b49ae6" stroke="none" stroke-width="0"/>
<circle cx="465.3" cy="591.44" r="1.5" fill="#b49ae6" stroke="none" stroke-width="0"/>
<rect x="471.4" y="626.42" width="9" height="5.68" fill="#fff" stroke="#2a72e6" stroke-width="1.5"/>
<line x1="475.9" y1="626.12" x2="475.9" y2="626.42" stroke="#2a72e6" stroke-width="1" />
<line x1="473.9" y1="626.12" x2="477.9" y2="626.12" stroke="#2a72e6" stroke-width="1" />
<circle cx="475.9" cy="626.12" r="1.4" fill="#19c6f2" stroke="none" stroke-width="0"/>
<circle cx="487" cy="630.9" r="1.4" fill="#5fcbd8" stroke="none" stroke-width="0"/>
<circle cx="490.9" cy="629.71" r="1.4" fill="#5fcbd8" stroke="none" stroke-width="0"/>
<circle cx="494.8" cy="631.5" r="1.4" fill="#5fcbd8" stroke="none" stroke-width="0"/>
<rect x="510.5" y="548.38" width="9" height="83.72" fill="#fff" stroke="#35206a" stroke-width="1.6"/>
<line x1="515" y1="525.06" x2="515" y2="570.51" stroke="#8878b8" stroke-width="0.9" />
<line x1="513" y1="525.06" x2="517" y2="525.06" stroke="#8878b8" stroke-width="1" />
<line x1="513" y1="570.51" x2="517" y2="570.51" stroke="#8878b8" stroke-width="1" />
<circle cx="511" cy="533.43" r="1.5" fill="#b49ae6" stroke="none" stroke-width="0"/>
<circle cx="515" cy="533.43" r="1.5" fill="#b49ae6" stroke="none" stroke-width="0"/>
<circle cx="519" cy="533.43" r="1.5" fill="#b49ae6" stroke="none" stroke-width="0"/>
<circle cx="515" cy="545.39" r="1.5" fill="#b49ae6" stroke="none" stroke-width="0"/>
<circle cx="515" cy="557.35" r="1.5" fill="#b49ae6" stroke="none" stroke-width="0"/>
<circle cx="515" cy="591.44" r="1.5" fill="#b49ae6" stroke="none" stroke-width="0"/>
<rect x="525.1" y="618.35" width="9" height="13.75" fill="#fff" stroke="#2a72e6" stroke-width="1.5"/>
<line x1="529.6" y1="603.7" x2="529.6" y2="618.35" stroke="#2a72e6" stroke-width="1" />
<line x1="527.6" y1="603.7" x2="531.6" y2="603.7" stroke="#2a72e6" stroke-width="1" />
<circle cx="529.6" cy="608.18" r="1.4" fill="#19c6f2" stroke="none" stroke-width="0"/>
<circle cx="529.6" cy="629.11" r="1.4" fill="#19c6f2" stroke="none" stroke-width="0"/>
<circle cx="540.7" cy="632.1" r="1.4" fill="#5fcbd8" stroke="none" stroke-width="0"/>
<circle cx="544.6" cy="631.5" r="1.4" fill="#5fcbd8" stroke="none" stroke-width="0"/>
<circle cx="548.5" cy="632.1" r="1.4" fill="#5fcbd8" stroke="none" stroke-width="0"/>
<rect x="563.1" y="577.38" width="9" height="54.72" fill="#fff" stroke="#35206a" stroke-width="1.6"/>
<line x1="567.6" y1="570.51" x2="567.6" y2="583.66" stroke="#8878b8" stroke-width="0.9" />
<line x1="565.6" y1="570.51" x2="569.6" y2="570.51" stroke="#8878b8" stroke-width="1" />
<line x1="565.6" y1="583.66" x2="569.6" y2="583.66" stroke="#8878b8" stroke-width="1" />
<circle cx="562.6" cy="572.3" r="1.5" fill="#b49ae6" stroke="none" stroke-width="0"/>
<circle cx="565.6" cy="571.1" r="1.5" fill="#b49ae6" stroke="none" stroke-width="0"/>
<circle cx="569.6" cy="571.1" r="1.5" fill="#b49ae6" stroke="none" stroke-width="0"/>
<circle cx="572.6" cy="570.51" r="1.5" fill="#b49ae6" stroke="none" stroke-width="0"/>
<circle cx="563.6" cy="579.48" r="1.5" fill="#b49ae6" stroke="none" stroke-width="0"/>
<circle cx="567.6" cy="581.27" r="1.5" fill="#b49ae6" stroke="none" stroke-width="0"/>
<circle cx="571.6" cy="579.48" r="1.5" fill="#b49ae6" stroke="none" stroke-width="0"/>
<rect x="577.7" y="612.96" width="9" height="19.14" fill="#fff" stroke="#2a72e6" stroke-width="1.5"/>
<line x1="582.2" y1="612.37" x2="582.2" y2="612.96" stroke="#2a72e6" stroke-width="1" />
<line x1="580.2" y1="612.37" x2="584.2" y2="612.37" stroke="#2a72e6" stroke-width="1" />
<circle cx="582.2" cy="612.96" r="1.4" fill="#19c6f2" stroke="none" stroke-width="0"/>
<circle cx="593.3" cy="632.1" r="1.4" fill="#5fcbd8" stroke="none" stroke-width="0"/>
<circle cx="597.2" cy="632.1" r="1.4" fill="#5fcbd8" stroke="none" stroke-width="0"/>
<circle cx="601.1" cy="632.1" r="1.4" fill="#5fcbd8" stroke="none" stroke-width="0"/>
<line x1="446.7" y1="608.58" x2="606.6" y2="608.58" stroke="#000" stroke-width="1.35" stroke-dasharray="2.6,1.9"/>
<text x="608.2" y="620.3" font-family="'Liberation Sans', sans-serif" font-size="10.2" font-weight="bold" fill="#111" text-anchor="start" stroke="#111" stroke-width="0.3" textLength="34.6" lengthAdjust="spacingAndGlyphs">Cut-off: 0.4</text>
<text x="461.3" y="524.7" font-family="'Liberation Sans', sans-serif" font-size="7.4" font-weight="bold" fill="#8e2fb0" text-anchor="middle" stroke="#8e2fb0" stroke-width="0.12">a</text>
<text x="514.5" y="522.6" font-family="'Liberation Sans', sans-serif" font-size="7.4" font-weight="bold" fill="#8e2fb0" text-anchor="middle" stroke="#8e2fb0" stroke-width="0.12">a</text>
<text x="568.2" y="566.4" font-family="'Liberation Sans', sans-serif" font-size="7.4" font-weight="bold" fill="#8e2fb0" text-anchor="middle" stroke="#8e2fb0" stroke-width="0.12">a</text>
<text x="475.9" y="620.6" font-family="'Liberation Sans', sans-serif" font-size="7.4" font-weight="bold" fill="#4a4cf0" text-anchor="middle" stroke="#4a4cf0" stroke-width="0.12">b</text>
<text x="490.3" y="625.6" font-family="'Liberation Sans', sans-serif" font-size="7.4" font-weight="bold" fill="#44c030" text-anchor="middle" stroke="#44c030" stroke-width="0.12">b</text>
<text x="529.6" y="601.1" font-family="'Liberation Sans', sans-serif" font-size="7.4" font-weight="bold" fill="#4a4cf0" text-anchor="middle" stroke="#4a4cf0" stroke-width="0.12">b</text>
<text x="544.2" y="627.1" font-family="'Liberation Sans', sans-serif" font-size="7.4" font-weight="bold" fill="#44c030" text-anchor="middle" stroke="#44c030" stroke-width="0.12">b</text>
<text x="582.2" y="604.2" font-family="'Liberation Sans', sans-serif" font-size="7.4" font-weight="bold" fill="#4a4cf0" text-anchor="middle" stroke="#4a4cf0" stroke-width="0.12">a</text>
<text x="597.6" y="627.1" font-family="'Liberation Sans', sans-serif" font-size="7.4" font-weight="bold" fill="#44c030" text-anchor="middle" stroke="#44c030" stroke-width="0.12">b</text>
<text x="529" y="663.4" font-family="'Liberation Sans', sans-serif" font-size="10" font-weight="bold" fill="#111" text-anchor="middle" stroke="#111" stroke-width="0.25" textLength="47" lengthAdjust="spacingAndGlyphs">Isolated Year</text>
<ellipse cx="629.2" cy="520.1" rx="1.4" ry="1.9" fill="#b49ae6"/>
<text x="637.8" y="523.3" font-family="'Liberation Sans', sans-serif" font-size="8.8" font-weight="normal" fill="#151515" text-anchor="start" stroke="#151515" stroke-width="0.08" textLength="132.3" lengthAdjust="spacingAndGlyphs">Positive Samples (Confirmed by Commercialized kits)</text>
<ellipse cx="629.2" cy="539.7" rx="1.4" ry="1.9" fill="#19c6f2"/>
<text x="637.8" y="542.9" font-family="'Liberation Sans', sans-serif" font-size="8.8" font-weight="normal" fill="#151515" text-anchor="start" stroke="#151515" stroke-width="0.08" textLength="147.8" lengthAdjust="spacingAndGlyphs">False Positive Samples (Confirmed by Commercialized kits)</text>
<ellipse cx="629.2" cy="561.1" rx="1.4" ry="1.9" fill="#5fcbd8"/>
<text x="637.8" y="564.3" font-family="'Liberation Sans', sans-serif" font-size="8.8" font-weight="normal" fill="#151515" text-anchor="start" stroke="#151515" stroke-width="0.08" textLength="134.6" lengthAdjust="spacingAndGlyphs">Negative Samples (Confirmed by Commercialized kits)</text>
</svg>
</body></html>
